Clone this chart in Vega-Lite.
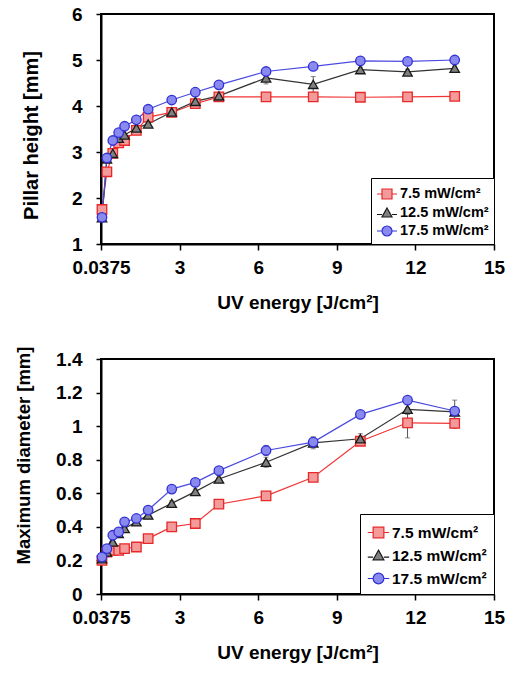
{
  "$schema": "https://vega.github.io/schema/vega-lite/v6.json",
  "padding": {"left": 13, "top": 4, "right": 5, "bottom": 5},
  "background": "white",
  "spacing": 32,
  "config": {
    "font": "Liberation Sans",
    "view": {"stroke": "black", "strokeWidth": 2},
    "axis": {
      "grid": false,
      "domainColor": "black",
      "domainWidth": 2,
      "tickColor": "black",
      "tickWidth": 1.5,
      "labelFont": "Liberation Sans",
      "labelFontWeight": "bold",
      "labelFontSize": 19,
      "labelColor": "black",
      "labelFlush": false,
      "titleFont": "Liberation Sans",
      "titleFontWeight": "bold",
      "titleFontSize": 20,
      "titleColor": "black"
    }
  },
  "data": {
    "values": [
      {"x": 0.0375, "s": "7.5 mW/cm²", "h": 1.75, "he": 0.03, "d": 0.2, "de": 0.015},
      {"x": 0.225, "s": "7.5 mW/cm²", "h": 2.57, "he": 0.03, "d": 0.25, "de": 0.015},
      {"x": 0.45, "s": "7.5 mW/cm²", "h": 2.97, "he": 0.03, "d": 0.26, "de": 0.015},
      {"x": 0.675, "s": "7.5 mW/cm²", "h": 3.2, "he": 0.03, "d": 0.26, "de": 0.015},
      {"x": 0.9, "s": "7.5 mW/cm²", "h": 3.25, "he": 0.03, "d": 0.27, "de": 0.015},
      {"x": 1.35, "s": "7.5 mW/cm²", "h": 3.47, "he": 0.03, "d": 0.28, "de": 0.015},
      {"x": 1.8, "s": "7.5 mW/cm²", "h": 3.76, "he": 0.03, "d": 0.33, "de": 0.015},
      {"x": 2.7, "s": "7.5 mW/cm²", "h": 3.86, "he": 0.03, "d": 0.4, "de": 0.015},
      {"x": 3.6, "s": "7.5 mW/cm²", "h": 4.05, "he": 0.03, "d": 0.42, "de": 0.015},
      {"x": 4.5, "s": "7.5 mW/cm²", "h": 4.2, "he": 0.03, "d": 0.535, "de": 0.02},
      {"x": 6.3, "s": "7.5 mW/cm²", "h": 4.2, "he": 0.03, "d": 0.585, "de": 0.015},
      {"x": 8.1, "s": "7.5 mW/cm²", "h": 4.2, "he": 0.03, "d": 0.695, "de": 0.015},
      {"x": 9.9, "s": "7.5 mW/cm²", "h": 4.19, "he": 0.03, "d": 0.91, "de": 0.015},
      {"x": 11.7, "s": "7.5 mW/cm²", "h": 4.2, "he": 0.04, "d": 1.02, "de": 0.09},
      {"x": 13.5, "s": "7.5 mW/cm²", "h": 4.21, "he": 0.03, "d": 1.017, "de": 0.03},
      {"x": 0.0375, "s": "12.5 mW/cm²", "h": 1.57, "he": 0.03, "d": 0.21, "de": 0.015},
      {"x": 0.225, "s": "12.5 mW/cm²", "h": 2.85, "he": 0.03, "d": 0.25, "de": 0.015},
      {"x": 0.45, "s": "12.5 mW/cm²", "h": 2.97, "he": 0.03, "d": 0.31, "de": 0.015},
      {"x": 0.675, "s": "12.5 mW/cm²", "h": 3.3, "he": 0.03, "d": 0.36, "de": 0.015},
      {"x": 0.9, "s": "12.5 mW/cm²", "h": 3.37, "he": 0.03, "d": 0.39, "de": 0.015},
      {"x": 1.35, "s": "12.5 mW/cm²", "h": 3.52, "he": 0.03, "d": 0.43, "de": 0.015},
      {"x": 1.8, "s": "12.5 mW/cm²", "h": 3.61, "he": 0.03, "d": 0.47, "de": 0.015},
      {"x": 2.7, "s": "12.5 mW/cm²", "h": 3.87, "he": 0.03, "d": 0.54, "de": 0.015},
      {"x": 3.6, "s": "12.5 mW/cm²", "h": 4.1, "he": 0.04, "d": 0.61, "de": 0.015},
      {"x": 4.5, "s": "12.5 mW/cm²", "h": 4.22, "he": 0.04, "d": 0.685, "de": 0.02},
      {"x": 6.3, "s": "12.5 mW/cm²", "h": 4.61, "he": 0.13, "d": 0.785, "de": 0.03},
      {"x": 8.1, "s": "12.5 mW/cm²", "h": 4.47, "he": 0.17, "d": 0.9, "de": 0.035},
      {"x": 9.9, "s": "12.5 mW/cm²", "h": 4.79, "he": 0.05, "d": 0.925, "de": 0.03},
      {"x": 11.7, "s": "12.5 mW/cm²", "h": 4.74, "he": 0.06, "d": 1.1, "de": 0.03},
      {"x": 13.5, "s": "12.5 mW/cm²", "h": 4.82, "he": 0.05, "d": 1.085, "de": 0.07},
      {"x": 0.0375, "s": "17.5 mW/cm²", "h": 1.58, "he": 0.03, "d": 0.22, "de": 0.015},
      {"x": 0.225, "s": "17.5 mW/cm²", "h": 2.87, "he": 0.03, "d": 0.27, "de": 0.015},
      {"x": 0.45, "s": "17.5 mW/cm²", "h": 3.25, "he": 0.03, "d": 0.35, "de": 0.015},
      {"x": 0.675, "s": "17.5 mW/cm²", "h": 3.42, "he": 0.03, "d": 0.37, "de": 0.015},
      {"x": 0.9, "s": "17.5 mW/cm²", "h": 3.56, "he": 0.03, "d": 0.43, "de": 0.015},
      {"x": 1.35, "s": "17.5 mW/cm²", "h": 3.7, "he": 0.03, "d": 0.45, "de": 0.015},
      {"x": 1.8, "s": "17.5 mW/cm²", "h": 3.93, "he": 0.03, "d": 0.5, "de": 0.015},
      {"x": 2.7, "s": "17.5 mW/cm²", "h": 4.13, "he": 0.03, "d": 0.625, "de": 0.015},
      {"x": 3.6, "s": "17.5 mW/cm²", "h": 4.3, "he": 0.03, "d": 0.665, "de": 0.015},
      {"x": 4.5, "s": "17.5 mW/cm²", "h": 4.46, "he": 0.03, "d": 0.735, "de": 0.02},
      {"x": 6.3, "s": "17.5 mW/cm²", "h": 4.75, "he": 0.03, "d": 0.855, "de": 0.03},
      {"x": 8.1, "s": "17.5 mW/cm²", "h": 4.86, "he": 0.03, "d": 0.905, "de": 0.03},
      {"x": 9.9, "s": "17.5 mW/cm²", "h": 4.98, "he": 0.03, "d": 1.07, "de": 0.015},
      {"x": 11.7, "s": "17.5 mW/cm²", "h": 4.97, "he": 0.04, "d": 1.155, "de": 0.02},
      {"x": 13.5, "s": "17.5 mW/cm²", "h": 5.0, "he": 0.03, "d": 1.09, "de": 0.02}
    ]
  },
  "vconcat": [
    {
      "width": 393,
      "height": 230,
      "encoding": {
        "x": {
          "field": "x", "type": "quantitative",
          "scale": {"domain": [0, 15], "nice": false, "zero": false},
          "axis": {
            "title": "UV energy [J/cm²]",
            "values": [0, 3, 6, 9, 12, 15],
            "labelExpr": "datum.value == 0 ? '0.0375' : datum.label",
            "tickSize": 6, "labelPadding": 8, "titlePadding": 16, "titleFontSize": 19
          }
        },
        "y": {
          "field": "h", "type": "quantitative",
          "scale": {"domain": [1, 6], "nice": false, "zero": false},
          "axis": {
            "title": "Pillar height [mm]",
            "values": [1, 2, 3, 4, 5, 6],
            "tickSize": 5, "labelPadding": 14,
            "titleX": -64, "titleY": 121, "titleBaseline": "alphabetic", "titleAngle": 270, "titleAlign": "center"
          }
        }
      },
      "layer": [
        {
          "mark": {"type": "errorbar", "ticks": {"size": 5}, "color": "#555555", "thickness": 1},
          "encoding": {"yError": {"field": "he"}, "detail": {"field": "s", "type": "nominal"}}
        },
        {
          "mark": {"type": "line", "strokeWidth": 1.2},
          "encoding": {
            "stroke": {"field": "s", "type": "nominal",
              "scale": {"domain": ["7.5 mW/cm²", "12.5 mW/cm²", "17.5 mW/cm²"], "range": ["#f03535", "#333333", "#4a4ae0"]},
              "legend": null}
          }
        },
        {
          "mark": {"type": "point", "filled": true, "size": 90, "strokeWidth": 1.3, "opacity": 1},
          "encoding": {
            "shape": {"field": "s", "type": "nominal",
              "scale": {"domain": ["7.5 mW/cm²", "12.5 mW/cm²", "17.5 mW/cm²"], "range": ["square", "triangle-up", "circle"]},
              "legend": null},
            "fill": {"field": "s", "type": "nominal",
              "scale": {"domain": ["7.5 mW/cm²", "12.5 mW/cm²", "17.5 mW/cm²"], "range": ["#f39a9a", "#808080", "#8a8aee"]},
              "legend": null},
            "stroke": {"field": "s", "type": "nominal",
              "scale": {"domain": ["7.5 mW/cm²", "12.5 mW/cm²", "17.5 mW/cm²"], "range": ["#e82828", "#1a1a1a", "#3030d8"]},
              "legend": null}
          }
        },
        {
          "mark": {"type": "point", "filled": true, "size": 400, "opacity": 0},
          "encoding": {
            "shape": {"field": "s", "type": "nominal",
              "scale": {"domain": ["7.5 mW/cm²", "12.5 mW/cm²", "17.5 mW/cm²"], "range": [
                "M-1,0H-0.5M0.5,0H1M-0.5,-0.5H0.5V0.5H-0.5Z",
                "M-1,0.15H-0.5M0.5,0.15H1M0,-0.5L0.5,0.4H-0.5Z",
                "M-1,0H-0.5M0.5,0H1M-0.5,0A0.5,0.5,0,1,1,0.5,0A0.5,0.5,0,1,1,-0.5,0Z"
              ]},
              "legend": {
                "title": null, "orient": "bottom-right", "offset": 0, "padding": 5,
                "strokeColor": "black", "fillColor": "white",
                "labelFont": "Liberation Sans", "labelFontSize": 14.5, "labelFontWeight": "bold", "labelColor": "black",
                "symbolOpacity": 1, "symbolStrokeWidth": 1.2, "symbolSize": 400, "rowPadding": 0, "labelOffset": 2
              }},
            "fill": {"field": "s", "type": "nominal",
              "scale": {"domain": ["7.5 mW/cm²", "12.5 mW/cm²", "17.5 mW/cm²"], "range": ["#f39a9a", "#808080", "#8a8aee"]},
              "legend": {
                "title": null, "orient": "bottom-right", "offset": 0, "padding": 5,
                "strokeColor": "black", "fillColor": "white",
                "labelFont": "Liberation Sans", "labelFontSize": 14.5, "labelFontWeight": "bold", "labelColor": "black",
                "symbolOpacity": 1, "symbolStrokeWidth": 1.2, "symbolSize": 400, "rowPadding": 0, "labelOffset": 2
              }},
            "stroke": {"field": "s", "type": "nominal",
              "scale": {"domain": ["7.5 mW/cm²", "12.5 mW/cm²", "17.5 mW/cm²"], "range": ["#e82828", "#1a1a1a", "#3030d8"]},
              "legend": {
                "title": null, "orient": "bottom-right", "offset": 0, "padding": 5,
                "strokeColor": "black", "fillColor": "white",
                "labelFont": "Liberation Sans", "labelFontSize": 14.5, "labelFontWeight": "bold", "labelColor": "black",
                "symbolOpacity": 1, "symbolStrokeWidth": 1.2, "symbolSize": 400, "rowPadding": 0, "labelOffset": 2
              }}
          }
        }
      ],
      "resolve": {"scale": {"shape": "independent", "fill": "independent", "stroke": "independent"}}
    },
    {
      "width": 393,
      "height": 235,
      "encoding": {
        "x": {
          "field": "x", "type": "quantitative",
          "scale": {"domain": [0, 15], "nice": false, "zero": false},
          "axis": {
            "title": "UV energy [J/cm²]",
            "values": [0, 3, 6, 9, 12, 15],
            "labelExpr": "datum.value == 0 ? '0.0375' : datum.label",
            "tickSize": 6, "labelPadding": 8, "titlePadding": 16, "titleFontSize": 19
          }
        },
        "y": {
          "field": "d", "type": "quantitative",
          "scale": {"domain": [0, 1.4], "nice": false},
          "axis": {
            "title": "Maximum diameter [mm]",
            "values": [0, 0.2, 0.4, 0.6, 0.8, 1, 1.2, 1.4],
            "format": ".1~f",
            "tickSize": 5, "labelPadding": 14, "titleFontSize": 18.5,
            "titleX": -72, "titleY": 96, "titleBaseline": "alphabetic", "titleAngle": 270, "titleAlign": "center"
          }
        }
      },
      "layer": [
        {
          "mark": {"type": "errorbar", "ticks": {"size": 5}, "color": "#555555", "thickness": 1},
          "encoding": {"yError": {"field": "de"}, "detail": {"field": "s", "type": "nominal"}}
        },
        {
          "mark": {"type": "line", "strokeWidth": 1.2},
          "encoding": {
            "stroke": {"field": "s", "type": "nominal",
              "scale": {"domain": ["7.5 mW/cm²", "12.5 mW/cm²", "17.5 mW/cm²"], "range": ["#f03535", "#333333", "#4a4ae0"]},
              "legend": null}
          }
        },
        {
          "mark": {"type": "point", "filled": true, "size": 90, "strokeWidth": 1.3, "opacity": 1},
          "encoding": {
            "shape": {"field": "s", "type": "nominal",
              "scale": {"domain": ["7.5 mW/cm²", "12.5 mW/cm²", "17.5 mW/cm²"], "range": ["square", "triangle-up", "circle"]},
              "legend": null},
            "fill": {"field": "s", "type": "nominal",
              "scale": {"domain": ["7.5 mW/cm²", "12.5 mW/cm²", "17.5 mW/cm²"], "range": ["#f39a9a", "#808080", "#8a8aee"]},
              "legend": null},
            "stroke": {"field": "s", "type": "nominal",
              "scale": {"domain": ["7.5 mW/cm²", "12.5 mW/cm²", "17.5 mW/cm²"], "range": ["#e82828", "#1a1a1a", "#3030d8"]},
              "legend": null}
          }
        },
        {
          "mark": {"type": "point", "filled": true, "size": 460, "opacity": 0},
          "encoding": {
            "shape": {"field": "s", "type": "nominal",
              "scale": {"domain": ["7.5 mW/cm²", "12.5 mW/cm²", "17.5 mW/cm²"], "range": [
                "M-1,0H-0.5M0.5,0H1M-0.5,-0.5H0.5V0.5H-0.5Z",
                "M-1,0.15H-0.5M0.5,0.15H1M0,-0.5L0.5,0.4H-0.5Z",
                "M-1,0H-0.5M0.5,0H1M-0.5,0A0.5,0.5,0,1,1,0.5,0A0.5,0.5,0,1,1,-0.5,0Z"
              ]},
              "legend": {
                "title": null, "orient": "bottom-right", "offset": 0, "padding": 7,
                "strokeColor": "black", "fillColor": "white",
                "labelFont": "Liberation Sans", "labelFontSize": 15.5, "labelFontWeight": "bold", "labelColor": "black",
                "symbolOpacity": 1, "symbolStrokeWidth": 1.2, "symbolSize": 460, "rowPadding": 3, "labelOffset": 2
              }},
            "fill": {"field": "s", "type": "nominal",
              "scale": {"domain": ["7.5 mW/cm²", "12.5 mW/cm²", "17.5 mW/cm²"], "range": ["#f39a9a", "#808080", "#8a8aee"]},
              "legend": {
                "title": null, "orient": "bottom-right", "offset": 0, "padding": 7,
                "strokeColor": "black", "fillColor": "white",
                "labelFont": "Liberation Sans", "labelFontSize": 15.5, "labelFontWeight": "bold", "labelColor": "black",
                "symbolOpacity": 1, "symbolStrokeWidth": 1.2, "symbolSize": 460, "rowPadding": 3, "labelOffset": 2
              }},
            "stroke": {"field": "s", "type": "nominal",
              "scale": {"domain": ["7.5 mW/cm²", "12.5 mW/cm²", "17.5 mW/cm²"], "range": ["#e82828", "#1a1a1a", "#3030d8"]},
              "legend": {
                "title": null, "orient": "bottom-right", "offset": 0, "padding": 7,
                "strokeColor": "black", "fillColor": "white",
                "labelFont": "Liberation Sans", "labelFontSize": 15.5, "labelFontWeight": "bold", "labelColor": "black",
                "symbolOpacity": 1, "symbolStrokeWidth": 1.2, "symbolSize": 460, "rowPadding": 3, "labelOffset": 2
              }}
          }
        }
      ],
      "resolve": {"scale": {"shape": "independent", "fill": "independent", "stroke": "independent"}}
    }
  ]
}
